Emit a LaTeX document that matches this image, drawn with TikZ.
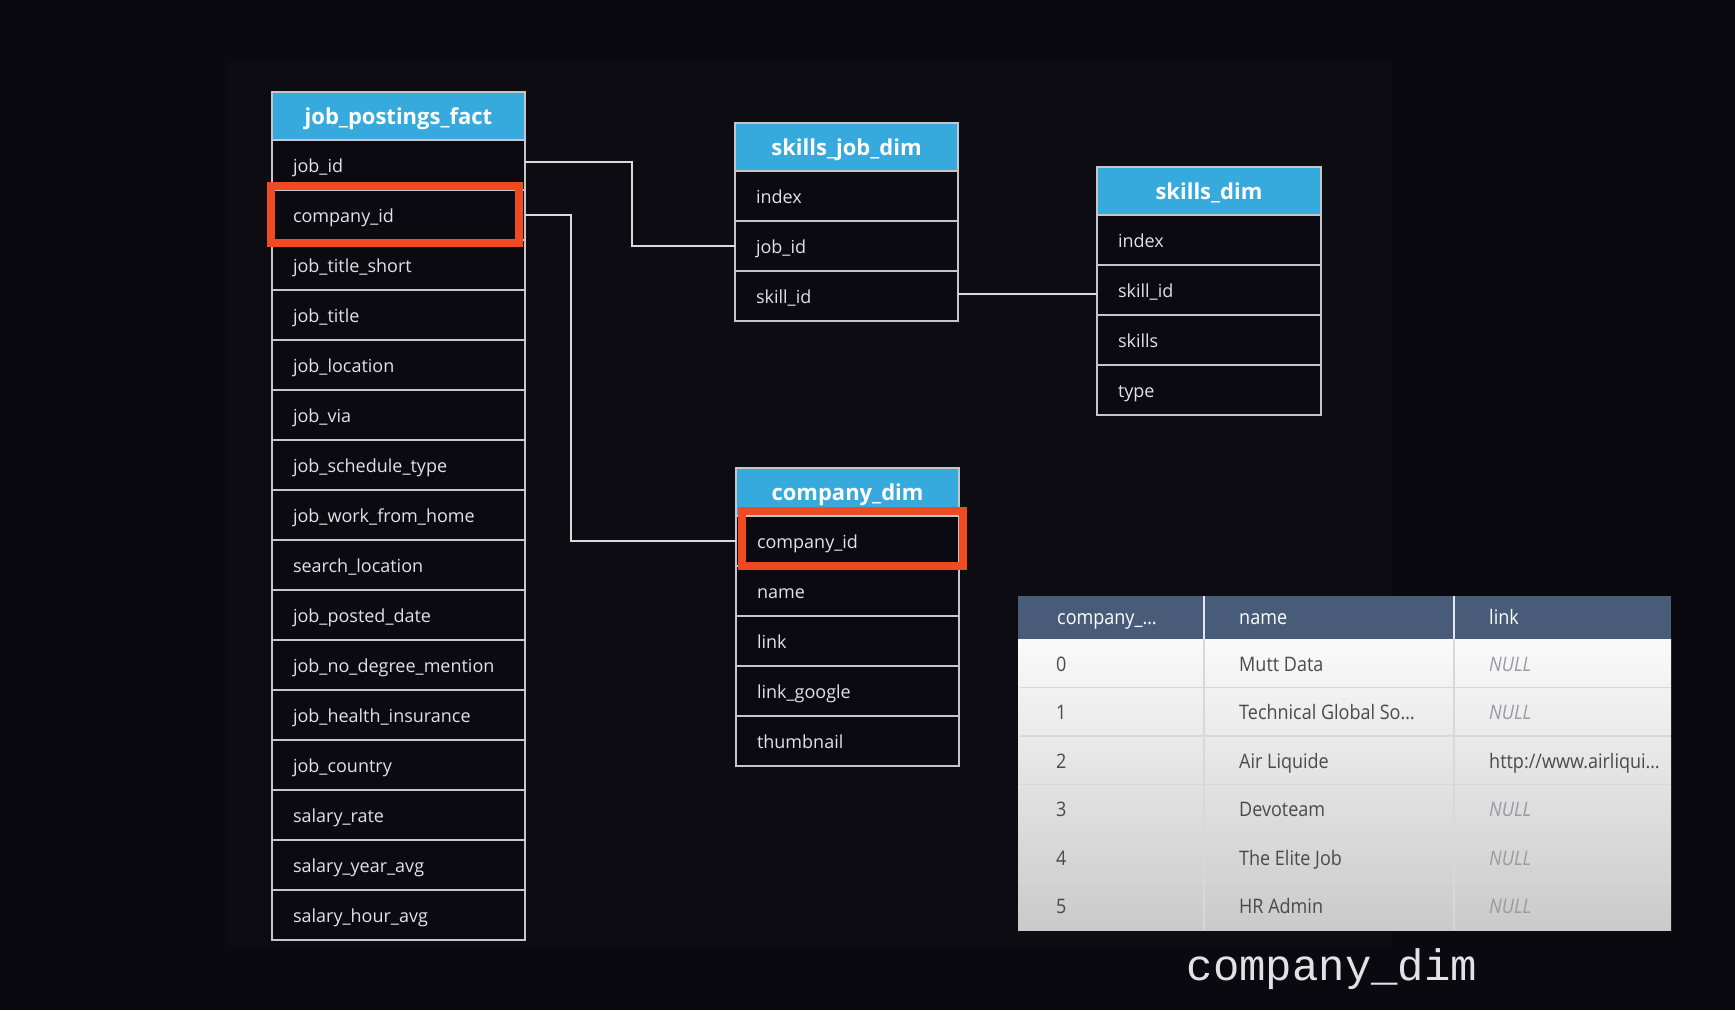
\documentclass[tikz,border=0pt]{standalone}
\usepackage{fontspec}
\setmainfont{Open Sans}
\newfontfamily\gridfont[FakeStretch=0.9]{Open Sans}
\newfontfamily\capfont{Liberation Mono}
\usetikzlibrary{positioning}

\definecolor{bgdark}{HTML}{0A0910}
\definecolor{bgpanel}{HTML}{0D0C13}
\definecolor{cellbg}{HTML}{0B0A11}
\definecolor{headblue}{HTML}{36A9DD}
\definecolor{rowline}{HTML}{C6C6CA}
\definecolor{rowtext}{HTML}{E2E2E4}
\definecolor{linkcol}{HTML}{DADADA}
\definecolor{redbox}{HTML}{EE4B22}
\definecolor{gridhead}{HTML}{485B78}
\definecolor{gridtop}{HTML}{FAFAFA}
\definecolor{gridbot}{HTML}{CACACA}
\definecolor{gridrule}{HTML}{D8D8DA}
\definecolor{gridtext}{HTML}{4A4A4C}
\definecolor{nulltext}{HTML}{9A9A9E}

\newcommand\headfont{\bfseries\fontsize{22}{24}\selectfont}
\newcommand\cellfont{\fontsize{18}{20}\selectfont}
\newcommand\nullv{\itshape\color{nulltext}NULL}

\tikzset{
  tblhead/.style={draw=rowline, fill=headblue, text=white, font=\headfont,
    minimum height=48pt, text height=17pt, text depth=1pt,
    inner sep=0pt, outer sep=0pt, line width=1.5pt},
  tblrow/.style={draw=rowline, fill=cellbg, text=rowtext, font=\cellfont,
    text width=#1, align=left, inner xsep=21pt, inner ysep=0pt,
    minimum height=50pt, text height=16pt, text depth=1pt,
    outer sep=0pt, line width=1.5pt},
  link/.style={draw=linkcol, line width=2pt},
  hilite/.style={draw=redbox, line width=8pt},
  gridhd/.style={text=white, font=\gridfont\fontsize{20}{22}\selectfont,
    inner sep=0pt, anchor=west, text height=16pt, text depth=2pt},
  gridtxt/.style={text=gridtext, font=\gridfont\fontsize{20}{22}\selectfont,
    inner sep=0pt, anchor=west, text height=17pt, text depth=1pt},
  gridrl/.style={draw=gridrule, line width=1.5pt},
  caption/.style={text=rowtext, font=\capfont\fontsize{44}{48}\selectfont, inner sep=0pt}
}

\begin{document}
\begin{tikzpicture}[x=1pt,y=-1pt]
% background
\fill[bgdark] (0,0) rectangle (1735,1010);
\fill[bgpanel] (228,62) rectangle (1392,946);
\useasboundingbox (0,0) rectangle (1735,1010);

% job_postings_fact
\node[tblhead, minimum width=253pt, anchor=north west] (jpf-0) at (272,92) {job\_postings\_fact};
\foreach \f [count=\i] in {job\_id, company\_id, job\_title\_short, job\_title, job\_location,
    job\_via, job\_schedule\_type, job\_work\_from\_home, search\_location, job\_posted\_date,
    job\_no\_degree\_mention, job\_health\_insurance, job\_country, salary\_rate,
    salary\_year\_avg, salary\_hour\_avg}{
  \pgfmathtruncatemacro\j{\i-1}
  \node[tblrow=211pt, below=0pt of jpf-\j] (jpf-\i) {\f};
}

% skills_job_dim
\node[tblhead, minimum width=223pt, anchor=north west] (sjd-0) at (735,123) {skills\_job\_dim};
\foreach \f [count=\i] in {index, job\_id, skill\_id}{
  \pgfmathtruncatemacro\j{\i-1}
  \node[tblrow=181pt, below=0pt of sjd-\j] (sjd-\i) {\f};
}

% skills_dim
\node[tblhead, minimum width=224pt, anchor=north west] (sd-0) at (1097,167) {skills\_dim};
\foreach \f [count=\i] in {index, skill\_id, skills, type}{
  \pgfmathtruncatemacro\j{\i-1}
  \node[tblrow=182pt, below=0pt of sd-\j] (sd-\i) {\f};
}

% company_dim
\node[tblhead, minimum width=223pt, anchor=north west] (cd-0) at (736,468) {company\_dim};
\foreach \f [count=\i] in {company\_id, name, link, link\_google, thumbnail}{
  \pgfmathtruncatemacro\j{\i-1}
  \node[tblrow=181pt, below=0pt of cd-\j] (cd-\i) {\f};
}

% joins
\draw[link] ([yshift=3pt]jpf-1.east) -- ++(107,0) |- (sjd-2.west);
\draw[link] (jpf-2.east) -- ++(46,0) |- (cd-1.west);
\draw[link] ([yshift=2pt]sjd-3.east) -- ([yshift=2pt]sjd-3.east -| sd-2.west);

% highlighted keys
\draw[hilite] ([xshift=-1pt,yshift=4pt]jpf-2.north west) rectangle ([xshift=-6pt,yshift=-3pt]jpf-2.south east);
\draw[hilite] ([xshift=6pt,yshift=5pt]cd-1.north west) rectangle ([xshift=4pt]cd-1.south east);

% query result grid
\fill[gridhead] (1018,596) rectangle (1671,639);
\shade[top color=gridtop, bottom color=gridbot] (1018,639) rectangle (1671,930);
\foreach \k in {1,...,5}
  \draw[gridrl] (1020,{639+48.5*\k}) -- (1671,{639+48.5*\k});
\foreach \c in {1204,1454}{
  \draw[gridrl] (\c,639) -- (\c,930);
  \draw[draw=white!85!gridhead, line width=1.5pt] (\c,596) -- (\c,639);
}
\node[gridhd] (h-id) at (1057,617.5) {company\_…};
\node[gridhd] (h-name) at (1239,617.5) {name};
\node[gridhd] (h-link) at (1489,617.5) {link};
\foreach \n/\nm/\lk [count=\r from 0] in {0/Mutt Data/\nullv, 1/Technical Global So…/\nullv,
    2/Air Liquide/{http://www.airliqui…}, 3/Devoteam/\nullv, 4/The Elite Job/\nullv,
    5/HR Admin/\nullv}{
  \node[gridtxt] (id-\r) at (1056,{663.25+48.5*\r}) {\n};
  \node[gridtxt] (nm-\r) at (1239,{663.25+48.5*\r}) {\nm};
  \node[gridtxt] (lk-\r) at (1489,{663.25+48.5*\r}) {\lk};
}

% caption
\node[caption, anchor=base] (cap) at (1332,980) {company\_dim};
\end{tikzpicture}
\end{document}
